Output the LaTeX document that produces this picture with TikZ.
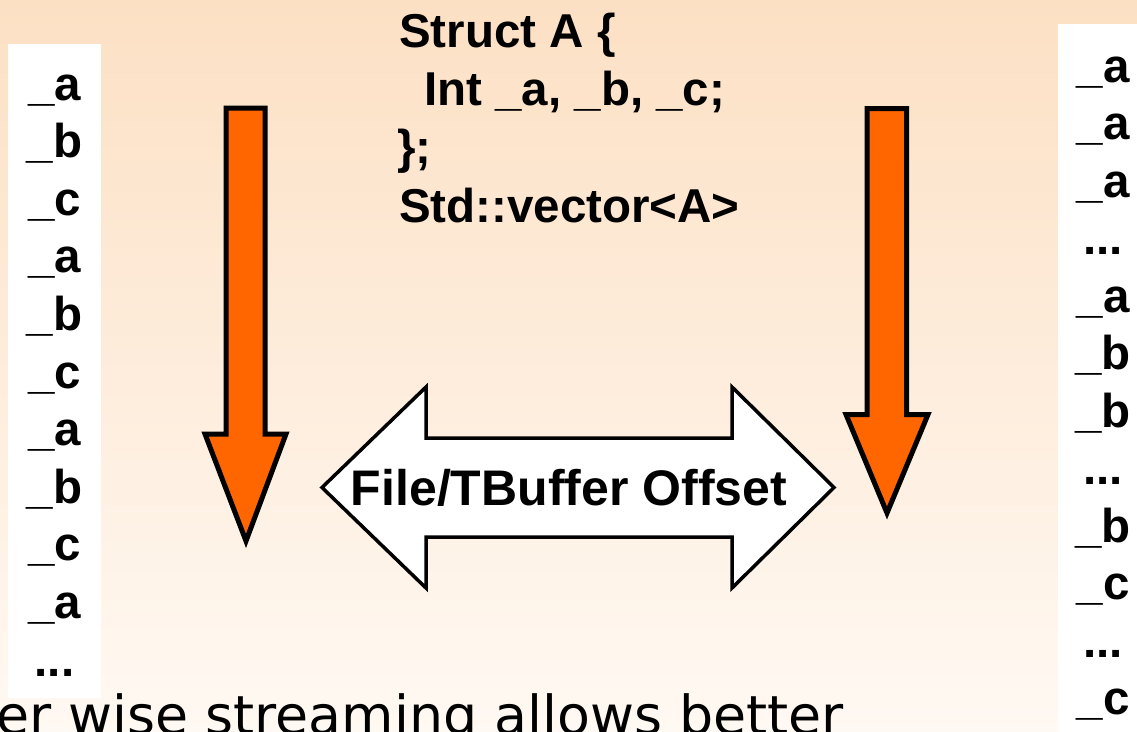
\documentclass[tikz,border=0pt]{standalone}
\usepackage{fontspec}
\setmainfont{Liberation Sans}
\newfontfamily\bodyfont{DejaVu Sans}
\definecolor{bgtop}{RGB}{252,224,196}
\definecolor{bgbot}{RGB}{255,249,243}
\definecolor{arroworange}{RGB}{255,102,0}
\newcommand\mydots{.\kern0pt.\kern0pt.}
\tikzset{
  lbl/.style={font=\bfseries\fontsize{47.5}{57}\selectfont, inner sep=0pt, text=black},
  codeline/.style={lbl, anchor=base west},
  collbl/.style={lbl, anchor=base},
  downarrow/.style={draw=black, fill=arroworange, line width=5pt, line join=miter},
  bigdouble/.style={draw=black, fill=white, line width=3.5pt, line join=miter},
  whitebox/.style={fill=white, draw=none}
}
\begin{document}
\begin{tikzpicture}[x=1pt,y=-1pt]
\useasboundingbox (0,0) rectangle (1137,731);
\clip (0,0) rectangle (1137,731);
% background
\shade[top color=bgtop, bottom color=bgbot] (0,0) rectangle (1137,731);
% white column boxes
\fill[whitebox] (8,44) rectangle (101,698);
\fill[whitebox] (1058,24) rectangle (1140,735);
% left column
\foreach \t [count=\i from 0] in {\_a,\_b,\_c,\_a,\_b,\_c,\_a,\_b,\_c,\_a,\mydots}
  \node[collbl] (L\i) at (54.5,{100+57.6*\i}) {\t};
% right column
\foreach \t [count=\i from 0] in {\_a,\_a,\_a,\mydots,\_a,\_b,\_b,\mydots,\_b,\_c,\mydots,\_c}
  \node[collbl] (R\i) at (1103,{82+57.5*\i}) {\t};
% struct code
\node[codeline] (s1) at (399,47) {Struct A \{};
\node[codeline] (s2) at (424,105) {Int \_a, \_b, \_c;};
\node[codeline] (s3) at (397,163) {\};};
\node[codeline] (s4) at (399,222) {Std::vector<A>};
% orange down arrows
\draw[downarrow] (226,108) -- (265,108) -- (265,434) -- (286,434) -- (246,541)
  -- (205,434) -- (226,434) -- cycle;
\draw[downarrow] (867,108.5) -- (906.5,108.5) -- (906.5,414.5) -- (928,414.5)
  -- (887,513) -- (846,414.5) -- (867,414.5) -- cycle;
% double arrow
\draw[bigdouble] (322,487.5) -- (426,387) -- (426,438) -- (732,438) -- (732,387)
  -- (834,487.5) -- (732,588) -- (732,537) -- (426,537) -- (426,588) -- cycle;
\node[lbl, font=\bfseries\fontsize{50}{57}\selectfont] (offset) at (569,488) {File/TBuffer Offset};
% bottom cut-off text
\node[inner sep=0pt, anchor=base west, font=\bodyfont\fontsize{53.8}{60}\selectfont] (bottom)
  at (-4,734) {er wise streaming allows better};
\end{tikzpicture}
\end{document}
